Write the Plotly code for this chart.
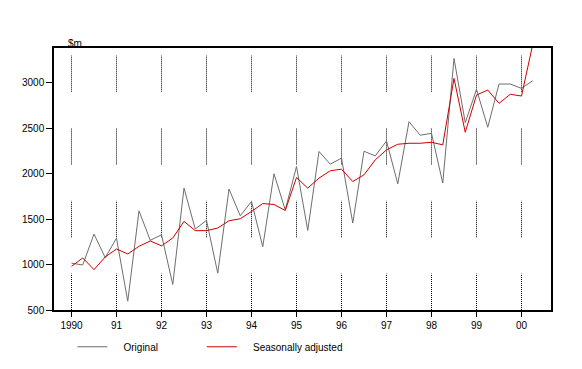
import plotly.graph_objects as go

# Quarterly data, Mar qtr 1990 to Jun qtr 2000 ($m)
start_year = 1990
original = [1015, 995, 1335, 1075, 1290, 597, 1590, 1266, 1327, 780,
            1840, 1390, 1485, 905, 1830, 1535, 1693, 1195, 1997, 1600,
            2077, 1375, 2242, 2103, 2169, 1456, 2245, 2194, 2358, 1887,
            2570, 2421, 2442, 1895, 3265, 2560, 2926, 2509, 2984, 2984,
            2936, 3020]
seasonally_adjusted = [980, 1072, 944, 1083, 1171, 1116, 1200, 1259, 1205, 1291,
                       1474, 1372, 1372, 1401, 1481, 1503, 1583, 1670, 1660, 1594,
                       1956, 1840, 1950, 2030, 2048, 1912, 1986, 2150, 2260, 2322,
                       2333, 2333, 2344, 2315, 3046, 2454, 2863, 2918, 2772, 2871,
                       2852, 3420]
tick_years = [1990, 1991, 1992, 1993, 1994, 1995, 1996, 1997, 1998, 1999, 2000]
tick_labels = ["1990", "91", "92", "93", "94", "95", "96", "97", "98", "99", "00"]
y_ticks = [500, 1000, 1500, 2000, 2500, 3000]
grid_segments = [(500, 900), (1300, 1700), (2100, 2500), (2900, 3300)]

x = [start_year + i / 4 for i in range(len(original))]

FONT = "Liberation Sans, Arial, sans-serif"
NB = "\u00a0"

fig = go.Figure()
fig.add_trace(go.Scatter(x=x, y=original, mode="lines",
                         name=NB * 4 + "Original" + NB * 14,
                         line=dict(color="#6e6e6e", width=1)))
fig.add_trace(go.Scatter(x=x, y=seasonally_adjusted, mode="lines",
                         name=NB * 4 + "Seasonally adjusted",
                         line=dict(color="#cc0000", width=1)))

shapes = []
for yr in tick_years:
    for y0, y1 in grid_segments:
        shapes.append(dict(type="line", xref="x", yref="y", x0=yr, x1=yr,
                           y0=y0, y1=y1, layer="below",
                           line=dict(color="black", width=1, dash="1px,1px")))

fig.update_layout(
    width=582, height=369,
    margin=dict(l=46, r=39, t=40, b=66.5),
    paper_bgcolor="white", plot_bgcolor="white",
    font=dict(family=FONT, size=10, color="black"),
    shapes=shapes,
    showlegend=True,
    legend=dict(orientation="h", x=0.037, xanchor="left", y=-0.085, yanchor="top",
                font=dict(family=FONT, size=10, color="black"),
                bgcolor="rgba(0,0,0,0)", itemclick=False),
    xaxis=dict(range=[1989.61111, 2000.65556], tickmode="array", tickvals=tick_years,
               ticktext=tick_labels, ticks="outside", ticklen=5, tickcolor="black",
               showgrid=False, zeroline=False, showline=True, linecolor="black",
               linewidth=1.5, mirror=True, tickfont=dict(size=10)),
    yaxis=dict(range=[500, 3380], tickmode="array", tickvals=y_ticks,
               ticks="outside", ticklen=6, tickcolor="black", showgrid=False,
               zeroline=False, showline=True, linecolor="black", linewidth=1.5,
               mirror=True, tickfont=dict(size=10)),
    annotations=[dict(text="$m", xref="paper", yref="paper", x=0.024, y=1.019,
                      xanchor="left", yanchor="middle", showarrow=False,
                      font=dict(family=FONT, size=10))],
)

fig.write_html("out.html")
